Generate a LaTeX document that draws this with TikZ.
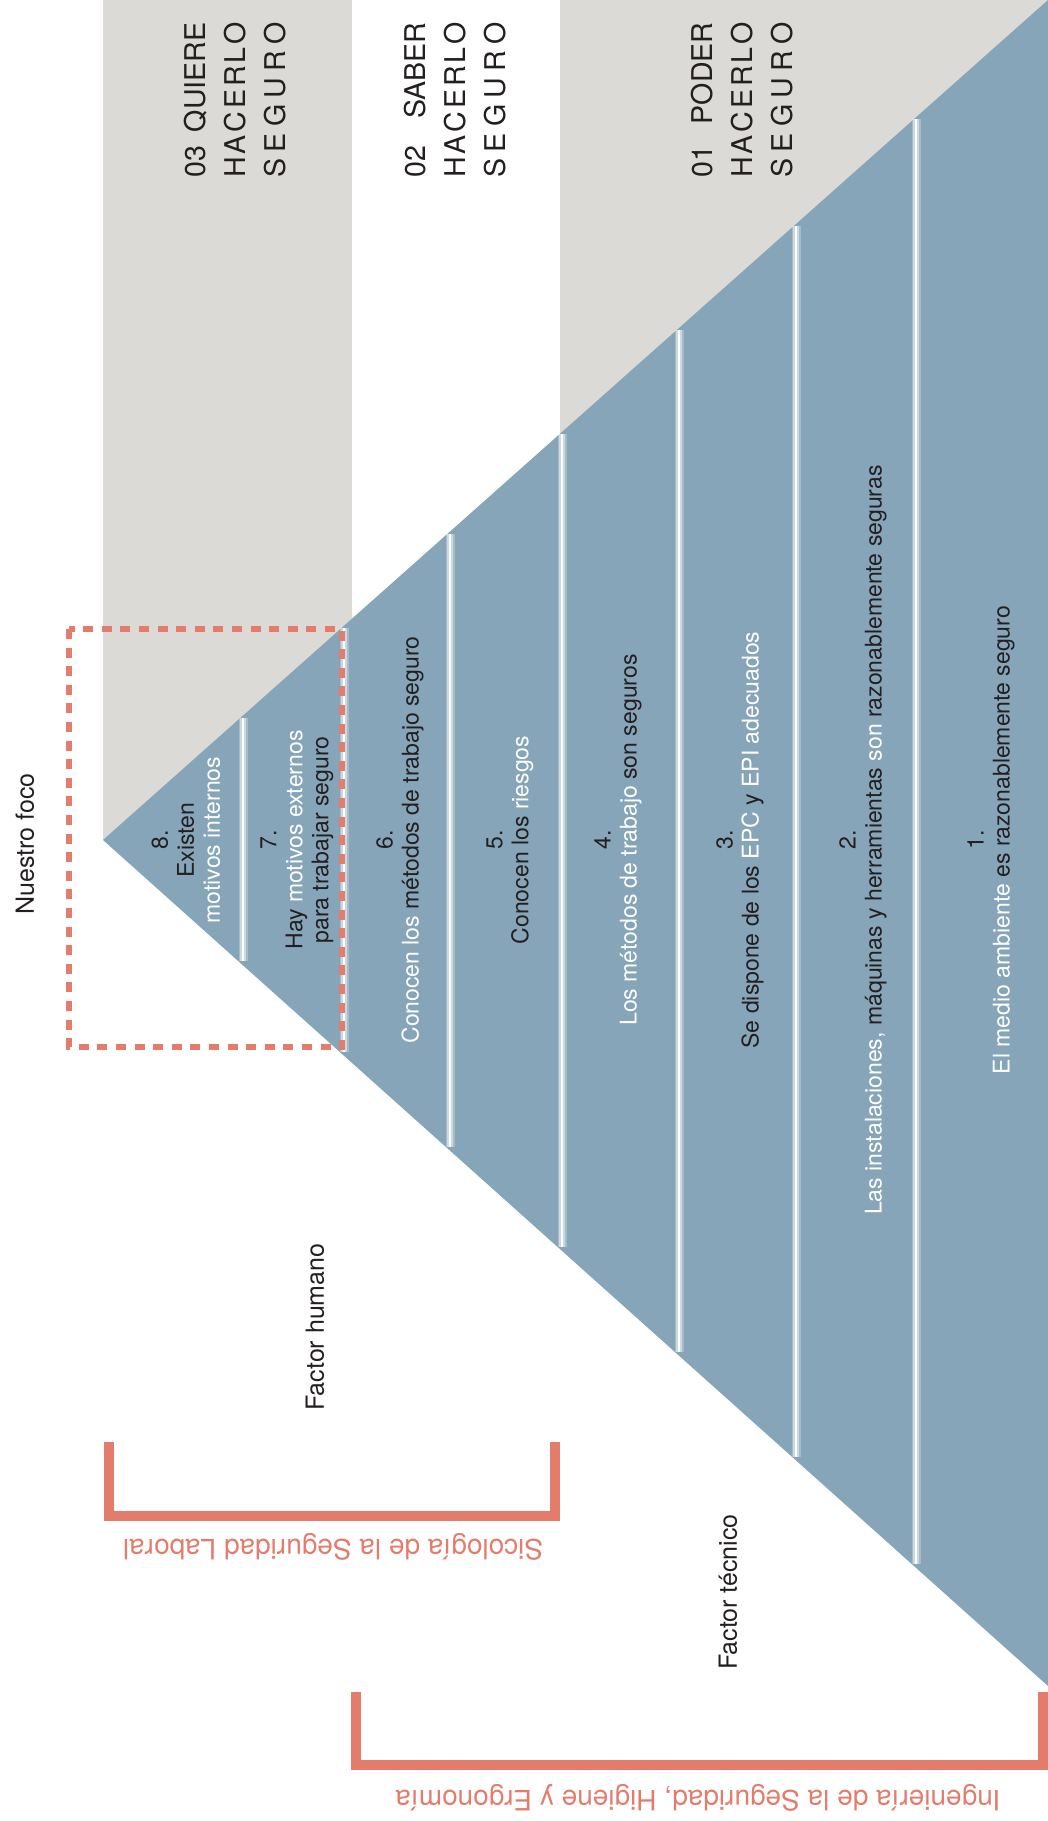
\documentclass[tikz,border=0pt]{standalone}
\usepackage{fontspec}
\setmainfont{TeX Gyre Heros}
\usepackage{xcolor}
\definecolor{pyramidblue}{RGB}{134,165,185}
\definecolor{bandgray}{RGB}{219,218,214}
\definecolor{focussalmon}{RGB}{227,124,107}
\definecolor{inkdark}{RGB}{35,31,32}
\newcommand{\headline}[1]{\makebox[77.5pt][s]{#1}}

\begin{document}
\begin{tikzpicture}[x=0.5pt, y=-0.5pt,
    leveltext/.style={inkdark, rotate=90, align=center, font=\fontsize{11.5}{13}\selectfont},
    factorlabel/.style={inkdark, rotate=90, font=\fontsize{12.5}{15}\selectfont},
    headtext/.style={inkdark, rotate=90, align=left, font=\fontsize{14.3}{20}\selectfont},
    bracketlabel/.style={focussalmon, rotate=180, font=\fontsize{14}{16}\selectfont},
    bracket/.style={focussalmon, line width=5pt},
    glow/.style={white, opacity=0.25, line width=4.5pt},
    softglow/.style={white, opacity=0.45, line width=2.6pt},
    split/.style={white, line width=1.1pt}]
    \useasboundingbox (0,0) rectangle (1048,1821);

    % Grey bands behind the pyramid
    \fill[bandgray] (103,0) rectangle (352,840);
    \fill[bandgray] (560,0) rectangle (1048,840);

    % Pyramid lying on its side
    \fill[pyramidblue] (103,840) -- (1048,0) -- (1048,1686) -- cycle;

    % Separators between the levels
    \draw[glow] (243,718) -- (243,961);
    \draw[glow] (344,628) -- (344,1052);
    \draw[glow] (450,534) -- (450,1147);
    \draw[glow] (562,434) -- (562,1247);
    \draw[glow] (679,330) -- (679,1352);
    \draw[glow] (796,226) -- (796,1457);
    \draw[glow] (916,119) -- (916,1564);
    \draw[softglow] (243,718) -- (243,961);
    \draw[softglow] (344,628) -- (344,1052);
    \draw[softglow] (450,534) -- (450,1147);
    \draw[softglow] (562,434) -- (562,1247);
    \draw[softglow] (679,330) -- (679,1352);
    \draw[softglow] (796,226) -- (796,1457);
    \draw[softglow] (916,119) -- (916,1564);
    \draw[split] (243,718) -- (243,961);
    \draw[split] (344,628) -- (344,1052);
    \draw[split] (450,534) -- (450,1147);
    \draw[split] (562,434) -- (562,1247);
    \draw[split] (679,330) -- (679,1352);
    \draw[split] (796,226) -- (796,1457);
    \draw[split] (916,119) -- (916,1564);

    % Headings on top
    \node[headtext] (quiere) at (235,100) {\headline{03\hfill QUIERE}\\\headline{H\hfill A\hfill C\hfill E\hfill R\hfill L\hfill O}\\\headline{S\hfill E\hfill G\hfill U\hfill R\hfill O}};
    \node[headtext] (saber) at (455,100) {\headline{02\hfill SABER}\\\headline{H\hfill A\hfill C\hfill E\hfill R\hfill L\hfill O}\\\headline{S\hfill E\hfill G\hfill U\hfill R\hfill O}};
    \node[headtext] (poder) at (742,100) {\headline{01\hfill PODER}\\\headline{H\hfill A\hfill C\hfill E\hfill R\hfill L\hfill O}\\\headline{S\hfill E\hfill G\hfill U\hfill R\hfill O}};

    % Levels of the pyramid
    \node[leveltext] (nivel8) at (186,840) {8.\\Existen\\\textcolor{white}{motivos internos}};
    \node[leveltext] (nivel7) at (297,840) {7.\\Hay \textcolor{white}{motivos externos}\\para trabajar seguro};
    \node[leveltext] (nivel6) at (400,840) {6.\\\textcolor{white}{Conocen los} métodos de trabajo seguro};
    \node[leveltext] (nivel5) at (510,840) {5.\\Conocen los \textcolor{white}{riesgos}};
    \node[leveltext] (nivel4) at (618,840) {4.\\\textcolor{white}{Los métodos de trabajo} son seguros};
    \node[leveltext] (nivel3) at (740,840) {3.\\Se dispone de los \textcolor{white}{EPC} y \textcolor{white}{EPI adecuados}};
    \node[leveltext] (nivel2) at (863,840) {2.\\\textcolor{white}{Las instalaciones,} máquinas y herramientas \textcolor{white}{son} razonablemente seguras};
    \node[leveltext] (nivel1) at (991,840) {1.\\\textcolor{white}{El medio ambiente} es razonablemente seguro};

    % Focus box
    \draw[focussalmon, line width=2.6pt, dash pattern=on 5pt off 4.3pt] (69,629) rectangle (342,1047);
    \node[factorlabel] (foco) at (25,844) {Nuestro foco};

    % Factors
    \node[factorlabel] (humano) at (315,1327) {Factor humano};
    \node[factorlabel] (tecnico) at (728,1592) {Factor técnico};

    % Brackets with disciplines
    \draw[bracket] (109,1442) -- (109,1516) -- (555,1516) -- (555,1442);
    \node[bracketlabel] (sicologia) at (333,1547) {Sicología de la Seguridad Laboral};
    \draw[bracket] (356,1692) -- (356,1765) -- (1043,1765) -- (1043,1692);
    \node[bracketlabel] (ingenieria) at (698,1798) {Ingeniería de la Seguridad, Higiene y Ergonomía};
\end{tikzpicture}
\end{document}
